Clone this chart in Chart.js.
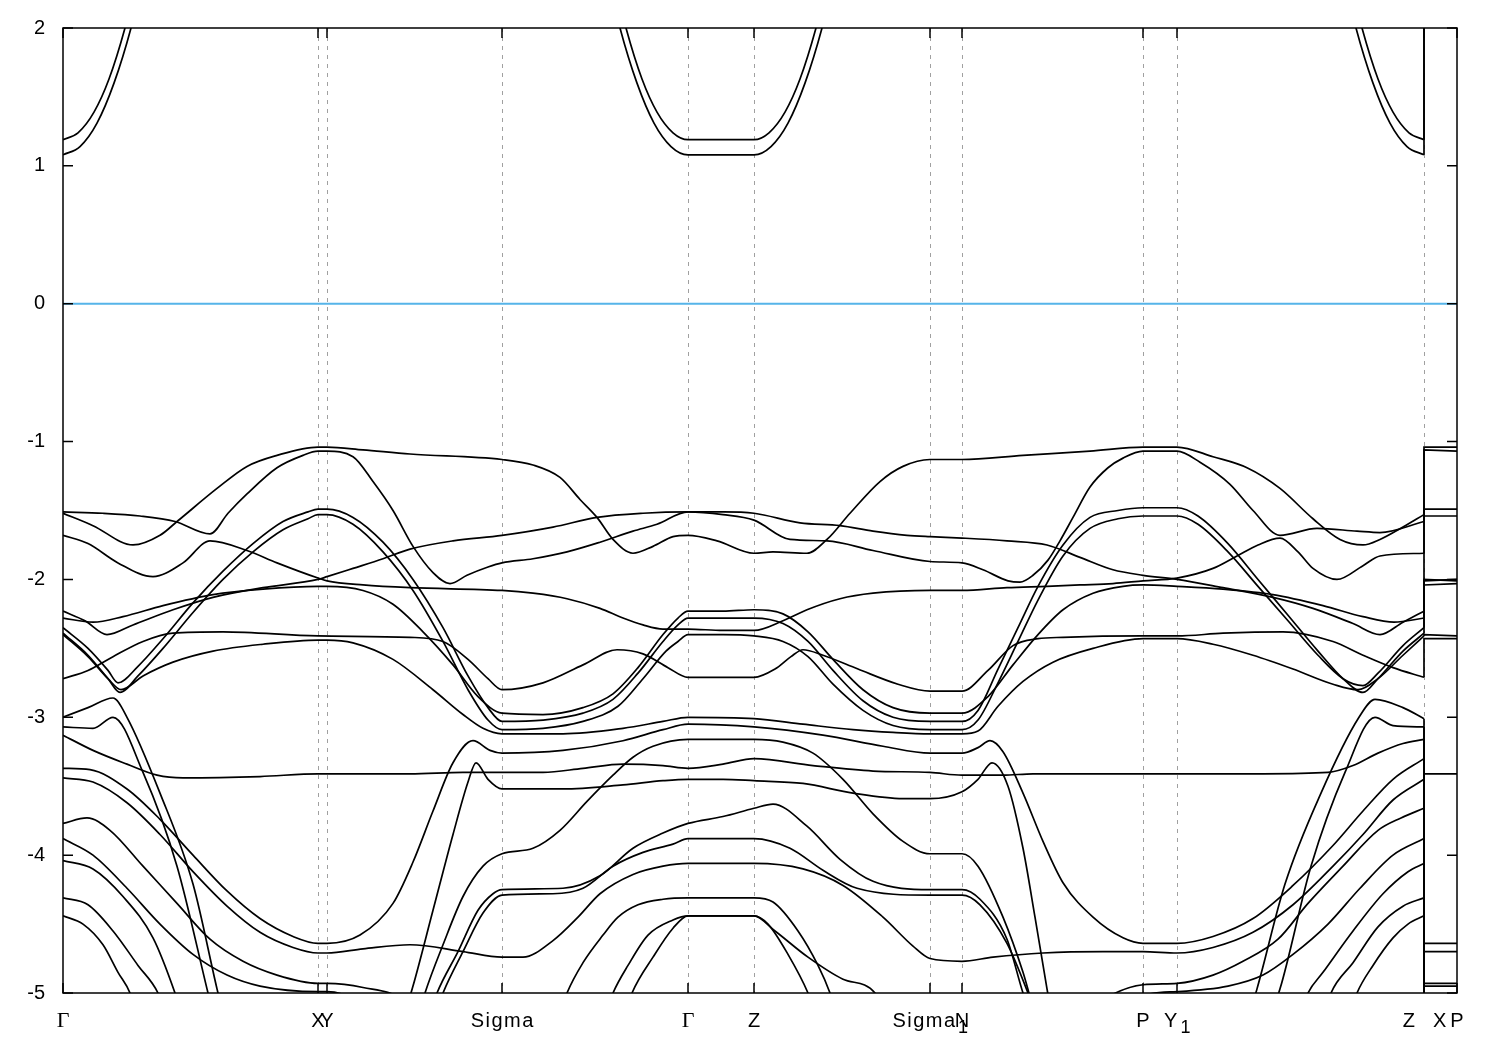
<!DOCTYPE html>
<html>
<head>
<meta charset="utf-8">
<script src="https://cdn.jsdelivr.net/npm/chart.js@4.4.0/dist/chart.umd.min.js"></script>
<style>
  body { margin: 0; background: #fff; }
</style>
</head>
<body>
<canvas id="bands" width="1500" height="1050"></canvas>
<script>
// path positions of the high-symmetry points and their labels
const kTicks = [0, 255, 264, 439, 625, 691, 867, 899, 1080, 1114, 1361, 1394];
const kLabels = ['Γ', 'X', 'Y', 'Sigma', 'Γ', 'Z', 'Sigma_1', 'N', 'P', 'Y_1', 'Z|X', 'P'];
const energyTicks = [-5, -4, -3, -2, -1, 0, 1, 2];
const fermiLevel = 0;

// bands as [k, E] pairs
const cb1 = [[0,1.08],[17,1.14],[34,1.31],[51,1.60],[68,2.00],[85,2.52],[110,3.2],[510,3.2],[540,2.52],[557,2.00],[574,1.60],[591,1.31],[608,1.14],[625,1.08],[691,1.08],[708,1.14],[725,1.31],[742,1.60],[759,2.00],[776,2.52],[800,3.2],[1250,3.2],[1276,2.52],[1293,2.00],[1310,1.60],[1327,1.31],[1344,1.14],[1361,1.08]];
const cb2 = [[0,1.19],[15,1.24],[31,1.39],[46,1.63],[62,2.00],[78,2.47],[100,3.1],[525,3.1],[547,2.47],[563,2.00],[579,1.63],[594,1.39],[610,1.24],[625,1.19],[691,1.19],[706,1.24],[722,1.39],[737,1.63],[753,2.00],[769,2.47],[790,3.1],[1260,3.1],[1283,2.47],[1299,2.00],[1315,1.63],[1330,1.39],[1346,1.24],[1361,1.19]];

const vbA = [[0,-1.52],[30,-1.61],[70,-1.75],[97,-1.68],[114,-1.58],[154,-1.34],[184,-1.18],[214,-1.10],[255,-1.04],[264,-1.04],[300,-1.06],[347,-1.09],[439,-1.13],[470,-1.17],[497,-1.26],[517,-1.42],[534,-1.55],[550,-1.71],[570,-1.81],[590,-1.76],[610,-1.69],[625,-1.68],[654,-1.72],[691,-1.81],[710,-1.80],[744,-1.81],[764,-1.71],[787,-1.52],[817,-1.29],[840,-1.18],[867,-1.13],[899,-1.13],[960,-1.10],[1027,-1.07],[1080,-1.04],[1114,-1.04],[1150,-1.11],[1184,-1.19],[1217,-1.34],[1250,-1.56],[1277,-1.71],[1300,-1.75],[1317,-1.71],[1340,-1.62],[1361,-1.53]];
const vbB = [[0,-1.51],[40,-1.52],[77,-1.54],[112,-1.58],[147,-1.67],[165,-1.52],[184,-1.38],[214,-1.19],[240,-1.10],[255,-1.07],[264,-1.07],[290,-1.11],[310,-1.29],[330,-1.50],[350,-1.76],[370,-1.95],[387,-2.03],[404,-1.97],[425,-1.91],[439,-1.88],[470,-1.85],[504,-1.80],[537,-1.73],[570,-1.65],[594,-1.60],[625,-1.51],[660,-1.53],[691,-1.57],[727,-1.71],[764,-1.72],[810,-1.79],[867,-1.87],[899,-1.88],[920,-1.93],[945,-2.01],[957,-2.02],[970,-1.97],[985,-1.86],[997,-1.72],[1010,-1.55],[1027,-1.33],[1045,-1.19],[1060,-1.12],[1080,-1.07],[1114,-1.07],[1137,-1.15],[1167,-1.31],[1190,-1.50],[1217,-1.68],[1254,-1.63],[1294,-1.65],[1317,-1.66],[1361,-1.58]];
const vbN = [[0,-2.23],[22,-2.30],[44,-2.40],[70,-2.33],[110,-2.22],[150,-2.13],[200,-2.06],[255,-2.00],[264,-1.98],[290,-1.92],[320,-1.85],[347,-1.78],[390,-1.72],[439,-1.68],[490,-1.62],[534,-1.55],[580,-1.52],[625,-1.51],[660,-1.51],[691,-1.52],[737,-1.59],[777,-1.61],[810,-1.65],[844,-1.68],[867,-1.69],[899,-1.70],[944,-1.72],[984,-1.75],[1017,-1.84],[1050,-1.93],[1080,-1.97],[1114,-2.00],[1160,-2.06],[1210,-2.13],[1250,-2.21],[1290,-2.32],[1317,-2.40],[1340,-2.31],[1361,-2.23]];
const vbM = [[0,-1.68],[25,-1.74],[55,-1.88],[90,-1.98],[120,-1.88],[147,-1.72],[184,-1.79],[214,-1.88],[255,-1.99],[264,-2.01],[300,-2.04],[347,-2.06],[439,-2.08],[470,-2.10],[504,-2.14],[537,-2.21],[560,-2.28],[580,-2.33],[600,-2.36],[625,-2.36],[660,-2.37],[691,-2.37],[720,-2.30],[744,-2.22],[777,-2.14],[810,-2.10],[867,-2.08],[899,-2.08],[944,-2.06],[984,-2.05],[1017,-2.04],[1050,-2.03],[1080,-2.01],[1114,-1.99],[1150,-1.92],[1174,-1.83],[1195,-1.75],[1217,-1.70],[1235,-1.80],[1250,-1.92],[1274,-2.00],[1300,-1.90],[1317,-1.83],[1361,-1.81]];
const vbC = [[0,-2.28],[30,-2.31],[60,-2.27],[100,-2.19],[150,-2.11],[200,-2.07],[255,-2.05],[264,-2.05],[300,-2.08],[330,-2.18],[360,-2.38],[390,-2.62],[415,-2.85],[439,-2.97],[480,-2.98],[520,-2.93],[550,-2.83],[575,-2.64],[600,-2.40],[615,-2.28],[625,-2.23],[660,-2.23],[691,-2.22],[720,-2.25],[745,-2.38],[770,-2.58],[800,-2.80],[830,-2.93],[867,-2.97],[899,-2.97],[925,-2.85],[950,-2.62],[975,-2.40],[1000,-2.22],[1030,-2.10],[1060,-2.05],[1080,-2.04],[1114,-2.05],[1160,-2.07],[1210,-2.11],[1260,-2.19],[1300,-2.27],[1331,-2.31],[1361,-2.28]];
const vbD = [[0,-2.35],[25,-2.50],[45,-2.66],[55,-2.75],[75,-2.63],[100,-2.43],[130,-2.17],[160,-1.94],[190,-1.74],[220,-1.58],[245,-1.51],[255,-1.49],[264,-1.49],[290,-1.55],[320,-1.73],[350,-2.00],[380,-2.35],[405,-2.70],[425,-2.93],[439,-3.03],[480,-3.02],[520,-2.97],[550,-2.87],[575,-2.68],[600,-2.45],[615,-2.33],[625,-2.28],[660,-2.28],[691,-2.28],[720,-2.32],[745,-2.45],[770,-2.66],[800,-2.88],[830,-3.00],[867,-3.03],[899,-3.03],[915,-2.95],[935,-2.65],[955,-2.35],[975,-2.05],[1000,-1.75],[1027,-1.55],[1055,-1.50],[1080,-1.48],[1114,-1.48],[1135,-1.54],[1165,-1.74],[1195,-2.00],[1225,-2.26],[1255,-2.52],[1280,-2.72],[1300,-2.82],[1315,-2.72],[1340,-2.52],[1361,-2.39]];
const vbE = [[0,-2.39],[25,-2.55],[45,-2.72],[57,-2.82],[75,-2.70],[100,-2.50],[130,-2.24],[160,-2.00],[190,-1.80],[220,-1.64],[245,-1.56],[255,-1.53],[264,-1.53],[290,-1.60],[320,-1.80],[350,-2.08],[380,-2.45],[405,-2.80],[425,-3.02],[439,-3.09],[480,-3.08],[520,-3.03],[555,-2.92],[580,-2.72],[603,-2.52],[615,-2.45],[625,-2.40],[660,-2.40],[691,-2.41],[720,-2.45],[745,-2.56],[770,-2.76],[800,-2.95],[830,-3.06],[867,-3.09],[899,-3.09],[915,-3.02],[935,-2.75],[955,-2.45],[975,-2.15],[1000,-1.83],[1027,-1.63],[1055,-1.56],[1080,-1.54],[1114,-1.54],[1135,-1.60],[1165,-1.80],[1195,-2.05],[1225,-2.30],[1255,-2.55],[1280,-2.72],[1300,-2.77],[1315,-2.68],[1340,-2.48],[1361,-2.35]];
const vbG = [[0,-2.72],[25,-2.66],[50,-2.56],[80,-2.45],[110,-2.39],[160,-2.38],[255,-2.41],[347,-2.42],[380,-2.45],[405,-2.58],[425,-2.72],[439,-2.80],[480,-2.75],[520,-2.62],[554,-2.51],[580,-2.54],[605,-2.64],[625,-2.71],[660,-2.71],[691,-2.71],[712,-2.65],[728,-2.56],[740,-2.51],[760,-2.55],[795,-2.65],[835,-2.76],[867,-2.81],[899,-2.81],[925,-2.66],[950,-2.48],[975,-2.43],[1000,-2.42],[1080,-2.41],[1114,-2.41],[1160,-2.39],[1220,-2.38],[1270,-2.45],[1300,-2.55],[1330,-2.64],[1361,-2.71]];
const vbH = [[0,-2.40],[25,-2.56],[45,-2.72],[58,-2.80],[80,-2.70],[110,-2.60],[150,-2.52],[200,-2.47],[255,-2.44],[264,-2.44],[290,-2.46],[330,-2.58],[370,-2.80],[400,-2.98],[420,-3.08],[439,-3.12],[500,-3.12],[560,-3.08],[600,-3.03],[625,-3.00],[691,-3.01],[740,-3.05],[790,-3.09],[830,-3.11],[867,-3.12],[899,-3.12],[915,-3.10],[935,-2.92],[960,-2.74],[990,-2.60],[1030,-2.50],[1080,-2.43],[1114,-2.43],[1150,-2.47],[1190,-2.55],[1230,-2.65],[1270,-2.76],[1295,-2.80],[1315,-2.72],[1340,-2.55],[1361,-2.41]];
const vbF = [[0,-3.13],[30,-3.24],[64,-3.34],[94,-3.42],[120,-3.44],[197,-3.43],[255,-3.41],[347,-3.41],[400,-3.40],[439,-3.40],[480,-3.40],[520,-3.37],[560,-3.34],[600,-3.35],[625,-3.37],[660,-3.34],[691,-3.30],[750,-3.35],[810,-3.39],[867,-3.40],[899,-3.42],[940,-3.42],[970,-3.41],[1080,-3.41],[1114,-3.41],[1200,-3.41],[1265,-3.40],[1290,-3.35],[1315,-3.26],[1340,-3.19],[1361,-3.16]];
const vbBowl1 = [[0,-3.37],[27,-3.38],[64,-3.52],[97,-3.74],[130,-4.00],[164,-4.26],[197,-4.46],[230,-4.59],[255,-4.64],[264,-4.64],[297,-4.58],[330,-4.35],[350,-4.05],[370,-3.68],[390,-3.33],[410,-3.17],[427,-3.24],[439,-3.26],[500,-3.24],[560,-3.17],[600,-3.09],[625,-3.05],[691,-3.07],[760,-3.13],[820,-3.21],[867,-3.26],[899,-3.26],[915,-3.22],[927,-3.17],[940,-3.25],[960,-3.55],[980,-3.90],[1000,-4.20],[1030,-4.45],[1060,-4.60],[1080,-4.64],[1114,-4.64],[1150,-4.59],[1190,-4.46],[1230,-4.22],[1270,-3.93],[1300,-3.68],[1330,-3.45],[1361,-3.30]];
const vbBowl2 = [[0,-3.44],[30,-3.47],[64,-3.62],[97,-3.85],[130,-4.12],[164,-4.37],[197,-4.56],[230,-4.67],[255,-4.71],[264,-4.71],[300,-4.68],[347,-4.65],[400,-4.70],[439,-4.74],[460,-4.74],[490,-4.62],[515,-4.45],[537,-4.28],[570,-4.14],[600,-4.08],[625,-4.06],[691,-4.06],[740,-4.10],[780,-4.22],[820,-4.45],[850,-4.66],[867,-4.75],[899,-4.77],[930,-4.74],[980,-4.71],[1040,-4.70],[1080,-4.70],[1114,-4.71],[1150,-4.67],[1190,-4.56],[1230,-4.36],[1270,-4.08],[1300,-3.85],[1330,-3.60],[1361,-3.45]];
const vbR1 = [[335,-5.3],[350,-4.95],[370,-4.40],[390,-3.85],[405,-3.47],[413,-3.33],[425,-3.45],[439,-3.52],[500,-3.52],[560,-3.49],[600,-3.46],[625,-3.45],[660,-3.45],[691,-3.46],[740,-3.48],[790,-3.55],[840,-3.59],[867,-3.59],[899,-3.54],[915,-3.45],[929,-3.33],[945,-3.50],[960,-3.95],[972,-4.45],[984,-4.97],[992,-5.3]];
const vbR2 = [[350,-5.3],[362,-5.0],[380,-4.65],[400,-4.30],[420,-4.08],[439,-3.99],[470,-3.95],[497,-3.82],[524,-3.61],[550,-3.42],[570,-3.29],[590,-3.21],[625,-3.16],[660,-3.16],[691,-3.16],[720,-3.18],[750,-3.26],[780,-3.45],[810,-3.70],[840,-3.90],[867,-3.99],[899,-3.99],[915,-4.08],[940,-4.45],[960,-4.85],[970,-5.1],[985,-5.4]];
const vbR3 = [[360,-5.3],[374,-5.0],[395,-4.70],[415,-4.40],[430,-4.28],[439,-4.25],[500,-4.24],[537,-4.15],[570,-3.95],[600,-3.84],[625,-3.77],[660,-3.72],[691,-3.66],[710,-3.63],[744,-3.79],[777,-4.03],[810,-4.19],[867,-4.25],[899,-4.25],[917,-4.32],[944,-4.61],[960,-5.0],[975,-5.3]];
const vbR4 = [[365,-5.3],[380,-5.0],[400,-4.70],[420,-4.42],[439,-4.29],[490,-4.28],[520,-4.24],[550,-4.08],[580,-3.98],[610,-3.92],[625,-3.88],[691,-3.88],[727,-3.95],[760,-4.11],[794,-4.24],[867,-4.29],[899,-4.29],[917,-4.36],[944,-4.64],[965,-5.0],[980,-5.3]];
const vbR5 = [[490,-5.3],[504,-5.0],[520,-4.78],[540,-4.58],[555,-4.45],[575,-4.36],[600,-4.32],[625,-4.31],[691,-4.31],[710,-4.34],[735,-4.55],[755,-4.80],[767,-5.0],[780,-5.3]];
const vbR6 = [[535,-5.3],[550,-5.0],[565,-4.80],[585,-4.58],[610,-4.47],[625,-4.44],[691,-4.44],[705,-4.50],[725,-4.72],[745,-5.0],[760,-5.3]];
const vbR7 = [[555,-5.3],[569,-5.0],[590,-4.74],[610,-4.53],[625,-4.44],[691,-4.44],[712,-4.55],[745,-4.74],[780,-4.90],[812,-5.0],[830,-5.3]];
const vbP1 = [[0,-3.00],[25,-2.93],[50,-2.86],[64,-3.00],[97,-3.55],[130,-4.21],[154,-4.97],[165,-5.3]];
const vbP2 = [[0,-3.07],[30,-3.08],[50,-3.00],[80,-3.40],[114,-4.08],[144,-4.97],[155,-5.3]];
const vbD1 = [[0,-3.77],[24,-3.73],[47,-3.82],[80,-4.08],[114,-4.35],[147,-4.61],[180,-4.77],[214,-4.87],[255,-4.93],[264,-4.93],[300,-4.96],[340,-5.05],[370,-5.3]];
const vbD2 = [[0,-3.88],[30,-4.00],[64,-4.24],[97,-4.50],[130,-4.72],[164,-4.87],[197,-4.95],[255,-4.99],[264,-4.99],[290,-5.05],[320,-5.3]];
const vbP3 = [[0,-4.04],[30,-4.10],[60,-4.30],[90,-4.60],[112,-5.0],[125,-5.3]];
const vbP4 = [[0,-4.31],[25,-4.36],[50,-4.55],[75,-4.80],[95,-5.0],[110,-5.3]];
const vbP5 = [[0,-4.44],[20,-4.50],[40,-4.65],[55,-4.85],[67,-5.0],[80,-5.3]];
const vbQ1 = [[1180,-5.3],[1194,-4.97],[1222,-4.21],[1258,-3.55],[1296,-3.00],[1312,-2.87],[1340,-2.93],[1361,-3.01]];
const vbQ2 = [[1200,-5.3],[1217,-4.97],[1248,-4.08],[1282,-3.40],[1312,-3.00],[1330,-3.06],[1361,-3.07]];
const vbQ3 = [[1000,-5.3],[1040,-5.05],[1080,-4.94],[1114,-4.93],[1150,-4.87],[1180,-4.77],[1215,-4.61],[1245,-4.35],[1280,-4.08],[1315,-3.82],[1338,-3.73],[1361,-3.66]];
const vbQ4 = [[1050,-5.3],[1080,-5.02],[1114,-4.99],[1165,-4.95],[1200,-4.87],[1230,-4.72],[1265,-4.50],[1297,-4.24],[1330,-4.00],[1361,-3.88]];
const vbQ5 = [[1230,-5.3],[1245,-5.0],[1260,-4.85],[1290,-4.55],[1320,-4.28],[1345,-4.12],[1361,-4.06]];
const vbQ6 = [[1255,-5.3],[1268,-5.0],[1290,-4.78],[1315,-4.52],[1340,-4.37],[1361,-4.31]];
const vbQ7 = [[1280,-5.3],[1294,-5.0],[1310,-4.80],[1330,-4.60],[1345,-4.50],[1361,-4.44]];

// last segment X-P: energy at Z (end of path), at X, and at P
const xpFromZ = [1.19, 1.08, -1.53, -1.58, -1.81, -2.23, -2.28, -2.35, -2.39, -2.41, -2.71, -3.01, -3.07, -3.16, -3.30, -3.45, -3.66, -3.88];
const xpAtX   = [3.0, 2.6, -1.04, -1.06, -1.49, -1.54, -2.00, -2.01, -2.04, -2.40, -2.43, -3.41, -4.64, -4.70, -4.93, -4.95, -5.3, -5.4];
const xpAtP   = [3.0, 2.6, -1.04, -1.07, -1.49, -1.54, -2.01, -2.00, -2.03, -2.41, -2.43, -3.41, -4.64, -4.70, -4.93, -4.95, -5.3, -5.4];

const bandList = [cb1, cb2, vbA, vbB, vbN, vbM, vbC, vbD, vbE, vbG, vbH, vbF, vbBowl1, vbBowl2,
  vbR1, vbR2, vbR3, vbR4, vbR5, vbR6, vbR7, vbP1, vbP2, vbD1, vbD2, vbP3, vbP4, vbP5,
  vbQ1, vbQ2, vbQ3, vbQ4, vbQ5, vbQ6, vbQ7];

let datasets = bandList.map(b => ({
  data: b.map(p => ({x: p[0], y: p[1]})),
  borderColor: '#000',
  borderWidth: 1.7,
  pointRadius: 0,
  fill: false,
  cubicInterpolationMode: 'monotone'
}));

const kZ = kTicks[10], kP = kTicks[11];
for (let i = 0; i < xpFromZ.length; i++) {
  datasets.push({
    data: [{x: kZ, y: xpFromZ[i]}, {x: kZ, y: xpAtX[i]}, {x: kP, y: xpAtP[i]}],
    borderColor: '#000',
    borderWidth: 1.7,
    pointRadius: 0,
    fill: false,
    tension: 0
  });
}

datasets.push({
  data: [{x: kTicks[0], y: fermiLevel}, {x: kP, y: fermiLevel}],
  borderColor: '#56b4e9',
  borderWidth: 2,
  pointRadius: 0,
  fill: false,
  tension: 0
});

const sansFont = '20px "Liberation Sans", Arial, sans-serif';
const subFont = '18px "Liberation Sans", Arial, sans-serif';
const serifFont = '22px "Liberation Serif", "Times New Roman", serif';

let drawLabel = (ctx, text, x, y) => {
  ctx.letterSpacing = '0px';
  if (text === 'Γ') {
    ctx.font = serifFont;
    ctx.textAlign = 'center';
    ctx.fillText(text, x, y);
    return;
  }
  ctx.font = sansFont;
  if (text.includes('|')) {
    let parts = text.split('|');
    ctx.textAlign = 'right';
    ctx.fillText(parts[0], x - 9, y);
    ctx.textAlign = 'left';
    ctx.fillText(parts[1], x + 9, y);
    return;
  }
  let parts = text.split('_');
  ctx.letterSpacing = '1.5px';
  let mainW = ctx.measureText(parts[0]).width - 1.5;
  let subW = 0;
  if (parts.length > 1) {
    ctx.font = subFont;
    subW = ctx.measureText(parts[1]).width + 1;
  }
  let start = x - (mainW + subW) / 2;
  ctx.textAlign = 'left';
  ctx.font = sansFont;
  ctx.fillText(parts[0], start, y);
  if (parts.length > 1) {
    ctx.font = subFont;
    ctx.fillText(parts[1], start + mainW + 3, y + 6);
  }
  ctx.letterSpacing = '0px';
};

const framePlugin = {
  id: 'frame',
  beforeDatasetsDraw(chart) {
    let {ctx, chartArea: a, scales: {x}} = chart;
    ctx.save();
    ctx.strokeStyle = 'rgb(160,160,160)';
    ctx.lineWidth = 1;
    ctx.setLineDash([4, 5]);
    kTicks.slice(1, -1).forEach(k => {
      let px = Math.round(x.getPixelForValue(k)) + 0.5;
      ctx.beginPath();
      ctx.moveTo(px, a.top);
      ctx.lineTo(px, a.bottom);
      ctx.stroke();
    });
    ctx.restore();
  },
  afterDraw(chart) {
    let {ctx, chartArea: a, scales: {x, y}} = chart;
    ctx.save();
    ctx.strokeStyle = '#000';
    ctx.lineWidth = 1.5;
    ctx.strokeRect(a.left, a.top, a.right - a.left, a.bottom - a.top);

    ctx.fillStyle = '#000';
    energyTicks.forEach(v => {
      let py = y.getPixelForValue(v);
      ctx.beginPath();
      ctx.moveTo(a.left, py); ctx.lineTo(a.left + 10, py);
      ctx.moveTo(a.right, py); ctx.lineTo(a.right - 10, py);
      ctx.stroke();
      ctx.font = sansFont;
      ctx.textAlign = 'right';
      ctx.textBaseline = 'middle';
      ctx.fillText(String(v), a.left - 18, py);
    });

    ctx.textBaseline = 'alphabetic';
    kTicks.forEach((k, i) => {
      let px = x.getPixelForValue(k);
      ctx.beginPath();
      ctx.moveTo(px, a.bottom); ctx.lineTo(px, a.bottom - 10);
      ctx.moveTo(px, a.top); ctx.lineTo(px, a.top + 10);
      ctx.stroke();
      drawLabel(ctx, kLabels[i], px, a.bottom + 34);
    });
    ctx.restore();
  }
};

let ctx = document.getElementById('bands').getContext('2d');
let bandChart = new Chart(ctx, {
  type: 'line',
  data: { datasets: datasets },
  options: {
    responsive: false,
    animation: false,
    devicePixelRatio: 1,
    layout: { padding: { left: 63, top: 28, right: 43, bottom: 57 } },
    plugins: { legend: { display: false }, tooltip: { enabled: false } },
    scales: {
      x: { type: 'linear', min: 0, max: 1394, display: false },
      y: { type: 'linear', min: -5, max: 2, display: false }
    }
  },
  plugins: [framePlugin]
});
</script>
</body>
</html>
